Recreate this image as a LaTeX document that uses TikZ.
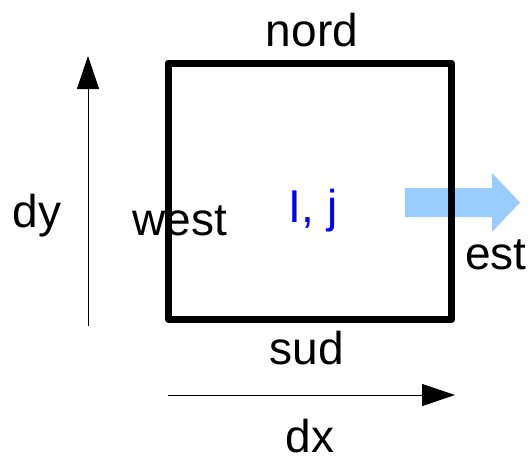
\documentclass[tikz,border=0pt]{standalone}
\usepackage{fontspec}
\setmainfont{Liberation Sans}
\usetikzlibrary{arrows.meta}

\definecolor{flux}{HTML}{99CCFF}

\tikzset{
  lbl/.style={font=\fontsize{46}{50}\selectfont, anchor=base, inner sep=0pt},
  cell/.style={line width=7pt, line join=round},
  delta/.style={line width=1pt, -{Triangle[length=33pt,width=22pt]}},
}

\begin{document}
\begin{tikzpicture}[x=1pt, y=-1pt]
    \useasboundingbox (0,0) rectangle (531,456);

    % flux sortant par la face est
    \fill[flux] (405,188) -- (492,188) -- (492,173) -- (520,202.5)
      -- (492,232) -- (492,217) -- (405,217) -- cycle;

    % maille (i,j)
    \coordinate (nw) at (168,63);
    \coordinate (se) at (451.5,319.5);
    \draw[cell] (nw) rectangle (se);

    \node[lbl] (nord) at (312,46) {nord};
    \node[lbl] (sud) at (307,364) {sud};
    \node[lbl] (west) at (180,235) {west};
    \node[lbl] (est) at (496,269) {est};
    \node[lbl, text=blue] (ij) at (313,222) {I, j};

    % pas d'espace
    \coordinate (dyfrom) at (88,326);
    \coordinate (dyto) at (88,56);
    \draw[delta] (dyfrom) -- (dyto);
    \node[lbl] (dy) at (37,227) {dy};

    \coordinate (dxfrom) at (168,395);
    \coordinate (dxto) at (455,395);
    \draw[delta] (dxfrom) -- (dxto);
    \node[lbl] (dx) at (310,452) {dx};
\end{tikzpicture}
\end{document}
